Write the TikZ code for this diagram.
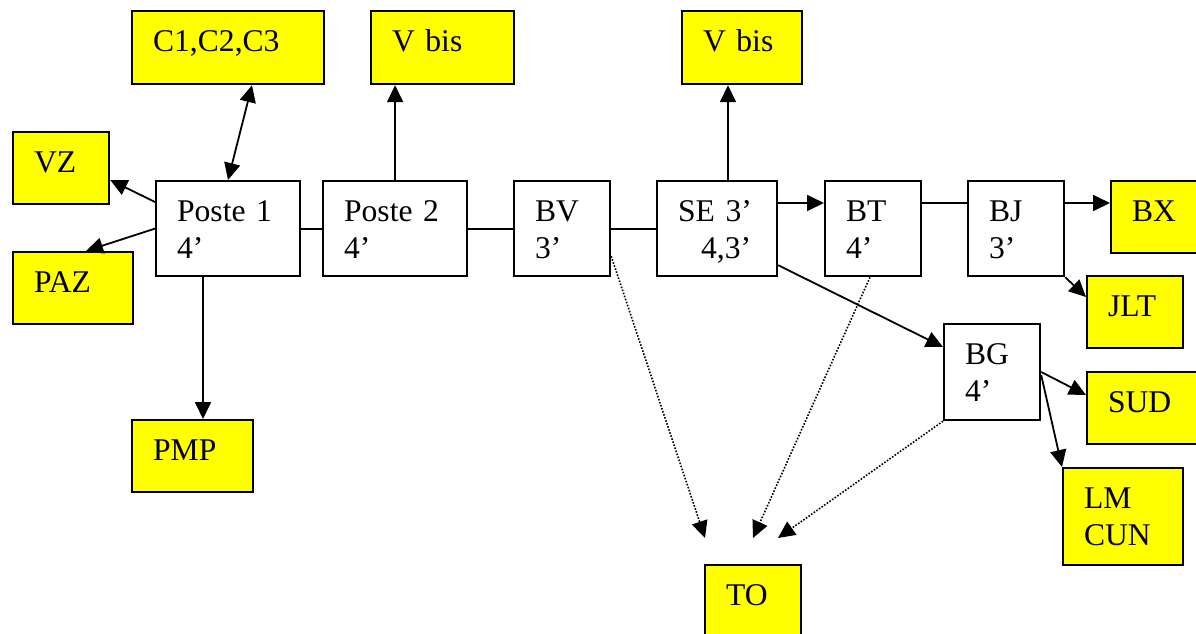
\documentclass[tikz,border=0pt]{standalone}
\usepackage{fontspec}
\setmainfont{Liberation Serif}
\usepackage{tikz}
\usetikzlibrary{calc}
\usetikzlibrary{arrows.meta}
\definecolor{boxyellow}{RGB}{255,255,0}
\tikzset{stage/.style={draw, line width=1.1pt, inner xsep=10.5pt, inner ysep=0pt,
    text height=20pt, align=left, anchor=north west,
    font=\fontsize{15.8}{18.7}\selectfont}}
\tikzset{plain/.style={line width=0.9pt}}
\tikzset{link/.style={plain, -{Triangle[length=8.5pt,width=8pt]}}}
\tikzset{linkboth/.style={plain, {Triangle[length=8.5pt,width=8pt]}-{Triangle[length=8.5pt,width=8pt]}}}
\tikzset{tolink/.style={link, line width=0.8pt, dash pattern=on 0.8pt off 0.8pt}}

\begin{document}
\begin{tikzpicture}[x=0.5pt,y=-0.5pt]
  \useasboundingbox (0,0) rectangle (1196,633);
  \foreach \x/\y/\bw/\bh/\col/\lab/\txt in {
    131/10/192/73/boxyellow/c123/{C1,C2,C3},
    370/10/143/73/boxyellow/vbisA/{V bis},
    681/10/120/73/boxyellow/vbisB/{V bis},
    12/131/96/72/boxyellow/vz/{VZ},
    12/251/120/72/boxyellow/paz/{PAZ},
    155/180/144/95/white/p1/{Poste 1\\4’},
    322/180/144/95/white/p2/{Poste 2\\4’},
    513/180/96/95/white/bv/{BV\\3’},
    656/180/120/95/white/se/{SE 3’\\\makebox[11.5pt]{}4,3’},
    824/180/96/95/white/bt/{BT\\4’},
    967/180/96/95/white/bj/{BJ\\3’},
    1110/180/96/72/boxyellow/bx/{BX},
    1086/275/96/72/boxyellow/jlt/{JLT},
    943/323/96/96/white/bg/{BG\\4’},
    1086/371/120/72/boxyellow/sud/{SUD},
    1062/467/120/97/boxyellow/lmcun/{LM\\CUN},
    704/564/96/72/boxyellow/to/{TO},
    131/419/121/72/boxyellow/pmp/{PMP}%
  } {
    \pgfmathsetlengthmacro\tw{\bw*0.5pt-21pt}
    \pgfmathsetlengthmacro\td{\bh*0.5pt-20pt}
    \node[stage, fill=\col, text width=\tw, text depth=\td] (\lab) at (\x,\y) {\txt};
  }
  % plain links along the main line
  \foreach \a/\b in {p1/p2, p2/bv, bv/se}
    \draw[plain] (\a.east) -- (\b.west);
  % Poste 1
  \draw[link] ($(p1.north west)+(0,22)$) -- ($(vz.north east)+(0,49)$);
  \draw[link] (p1.west) -- ($(paz.north west)+(74,0)$);
  \draw[linkboth] ($(p1.north west)+(73,0)$) -- ($(c123.south west)+(121,0)$);
  \draw[link] ($(p1.south west)+(48,0)$) -- ($(pmp.north west)+(72,0)$);
  % Poste 2 and SE
  \draw[link] (p2.north) -- (p2.north |- vbisA.south);
  \draw[link] ($(se.north west)+(72,0)$) coordinate (seup) -- (seup |- vbisB.south);
  \draw[link] ($(se.north east)+(0,23)$) coordinate (sebt) -- (sebt -| bt.west);
  \draw[plain] ($(bt.north east)+(0,23)$) coordinate (btbj) -- (btbj -| bj.west);
  \draw[link] ($(bj.north east)+(0,23)$) coordinate (bjbx) -- (bjbx -| bx.west);
  \draw[link] (bj.south east) -- ($(jlt.north west)+(0,22)$);
  \draw[link] ($(se.south east)+(0,-12)$) -- ($(bg.north west)+(0,24)$);
  % BG
  \draw[link] ($(bg.north east)+(0,49)$) -- ($(sud.north west)+(0,24)$);
  \draw[link] ($(bg.north east)+(0,52)$) -- (lmcun.north west);
  % dotted links towards TO
  \coordinate (toA) at ($(to.north west)+(1,-26)$);
  \coordinate (toB) at ($(to.north west)+(49,-26)$);
  \coordinate (toC) at ($(to.north west)+(74,-26)$);
  \draw[tolink] ($(bv.south east)+(0,-21)$) -- (toA);
  \draw[tolink] ($(bt.south west)+(46,0)$) -- (toB);
  \draw[tolink] (bg.south west) -- (toC);
\end{tikzpicture}
\end{document}
